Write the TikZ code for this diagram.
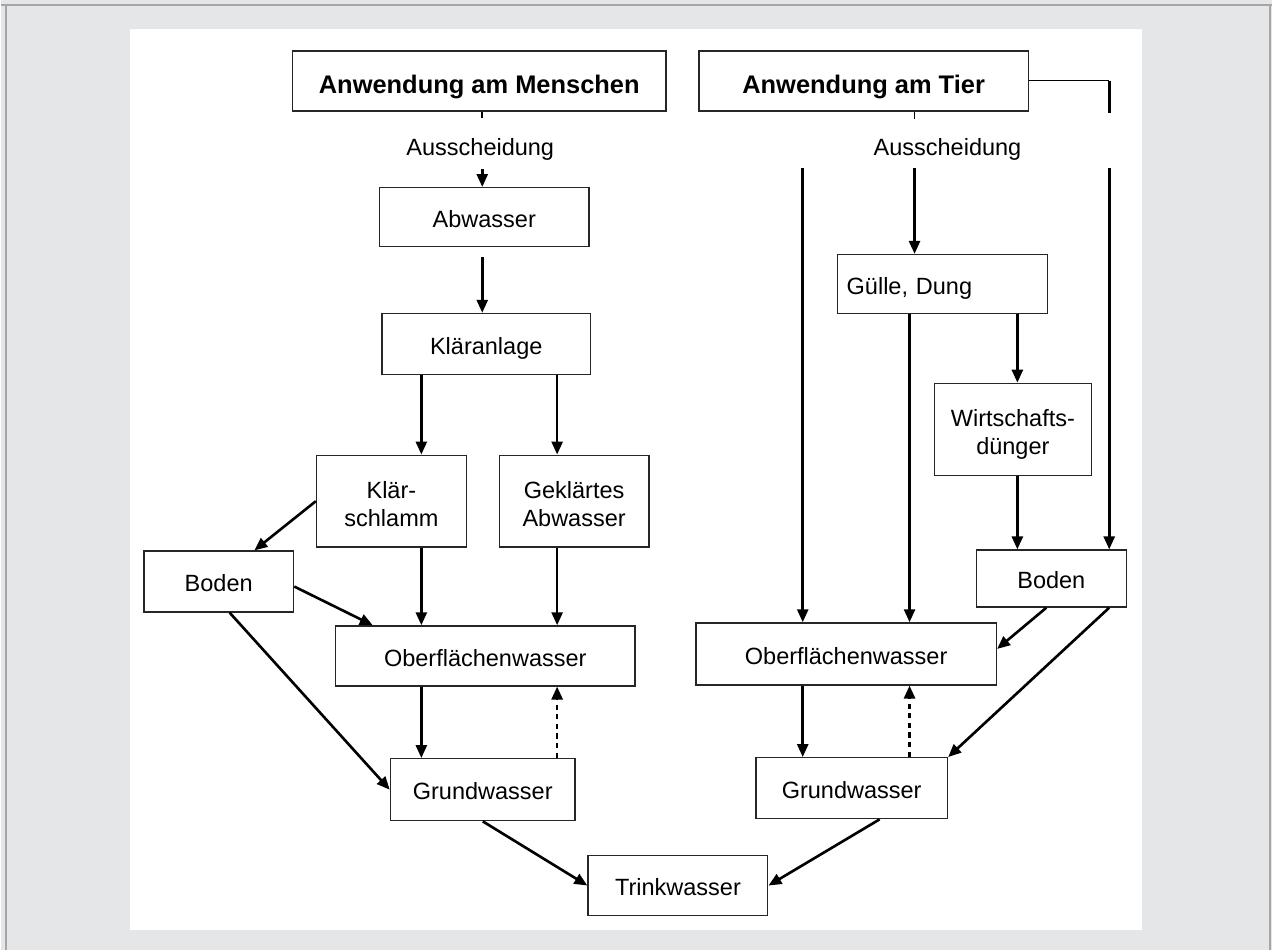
\documentclass[tikz,border=0pt]{standalone}
\usepackage{fontspec}
\setmainfont{Liberation Sans}
\usetikzlibrary{arrows.meta,calc}
\definecolor{framegray}{HTML}{E5E6E8}
\definecolor{rulegray}{HTML}{A6A6A6}
\begin{document}
\begin{tikzpicture}[x=0.02cm,y=-0.02cm,
    box/.style={draw=black!85,line width=0.8pt,fill=white,align=center,inner sep=0pt,
                text height=1.16em,text depth=0pt,font=\fontsize{13.4}{16}\selectfont},
    twoline/.style={box,text height=3.1em,text depth=0.21em},
    head/.style={box,text height=1.4em,font=\bfseries\fontsize{14.5}{17}\selectfont},
    lbl/.style={inner sep=0pt,font=\fontsize{13.4}{16}\selectfont},
    sz/.style 2 args={minimum width=#1*0.02cm,minimum height=#2*0.02cm},
    arr/.style={line width=1.5pt,-{Triangle[length=2.6mm,width=2.2mm]}},
    dots/.style={arr,dash pattern=on 3pt off 2.5pt}]
        % frame
        \fill[framegray] (0,0) rectangle (1273,952);
        \fill[white] (129,29) rectangle (1143,932);
        \draw[rulegray,line width=1.2pt] (0,5) -- (1273,5) (5,5) -- (5,952) (1271,5) -- (1271,952);
        % columns
        \coordinate (cm) at (482,0);
        \coordinate (ca) at (421,0);
        \coordinate (cb) at (557,0);
        \coordinate (cg) at (910,0);
        \coordinate (cw) at (1018,0);
        \coordinate (cs) at (803,168);
        \coordinate (ct) at (915,168);
        \coordinate (ce) at (1110,168);
        \coordinate (top) at (1110,113);
        % human side
        \node[head,sz={374}{60}] (hum) at (479,81) {Anwendung am Menschen};
        \node[lbl] (aus1) at (480,150) {Ausscheidung};
        \node[box,sz={210}{59}] (abw) at (484,217.5) {Abwasser};
        \node[box,sz={209}{61}] (kla) at (486,344.5) {Kläranlage};
        \node[twoline,sz={150}{92}] (ksl) at (391,502) {Klär-\\schlamm};
        \node[twoline,sz={150}{92}] (gkl) at (574,502) {Geklärtes\\Abwasser};
        \node[box,sz={150}{61}] (bol) at (218,582.5) {Boden};
        \node[box,sz={300}{60}] (obl) at (485,657) {Oberflächenwasser};
        \node[box,sz={185}{62}] (grl) at (482.5,791) {Grundwasser};
        \node[box,sz={180}{60}] (trw) at (678,887) {Trinkwasser};
        % animal side
        \node[head,sz={330}{60}] (ani) at (864,81) {Anwendung am Tier};
        \node[lbl] (aus2) at (948,150) {Ausscheidung};
        \node[box,sz={210}{59},text width=3.84cm,align=left] (gue) at (943,284.5) {Gülle, Dung};
        \node[twoline,sz={157}{92}] (wid) at (1013.5,430) {Wirtschafts-\\dünger};
        \node[box,sz={150}{57}] (bor) at (1052,579.5) {Boden};
        \node[box,sz={301}{62}] (obr) at (846.5,655) {Oberflächenwasser};
        \node[box,sz={192}{61}] (grr) at (852,789.5) {Grundwasser};
        % connectors, human side
        \draw[line width=1pt] (hum.south -| cm) -- ++(0,6);
        \draw[arr,shorten <=0.16cm] (aus1.south -| cm) -- (abw.north -| cm);
        \draw[arr,shorten <=0.2cm] (abw.south -| cm) -- (kla.north -| cm);
        \draw[arr] (kla.south -| ca) -- (ksl.north -| ca);
        \draw[arr] (kla.south -| cb) -- (gkl.north -| cb);
        \draw[arr] (ksl.west) -- ([xshift=-0.8cm]bol.north east);
        \draw[arr] ([yshift=-0.1cm]bol.east) -- ([xshift=0.76cm]obl.north west);
        \draw[arr] ([xshift=0.22cm]bol.south) -- (grl.west);
        \draw[arr] (ksl.south -| ca) -- (obl.north -| ca);
        \draw[arr] (gkl.south -| cb) -- (obl.north -| cb);
        \draw[arr] (obl.south -| ca) -- (grl.north -| ca);
        \draw[dots] (grl.north -| cb) -- (obl.south -| cb);
        \draw[arr] (grl.south) -- (trw.west);
        % connectors, animal side
        \draw[line width=1pt] (ani.south -| ct) -- ++(0,7);
        \draw[line width=0.6pt] (ani.east) -- (top |- ani.east);
        \draw[line width=1.5pt] (top |- ani.east) -- (top);
        \draw[arr] (cs) -- (obr.north -| cs);
        \draw[arr] (ct) -- (gue.north -| ct);
        \draw[arr] (ce) -- (bor.north -| ce);
        \draw[arr] (gue.south -| cg) -- (obr.north -| cg);
        \draw[arr] (gue.south -| cw) -- (wid.north -| cw);
        \draw[arr] (wid.south -| cw) -- (bor.north -| cw);
        \draw[arr] ([xshift=-0.1cm]bor.south) -- ([yshift=0.1cm]obr.east);
        \draw[arr] (bor.south -| ce) -- (grr.north east);
        \draw[arr] (obr.south -| cs) -- (grr.north -| cs);
        \draw[dots] (grr.north -| cg) -- (obr.south -| cg);
        \draw[arr] ([xshift=0.56cm]grr.south) -- (trw.east);
\end{tikzpicture}
\end{document}
